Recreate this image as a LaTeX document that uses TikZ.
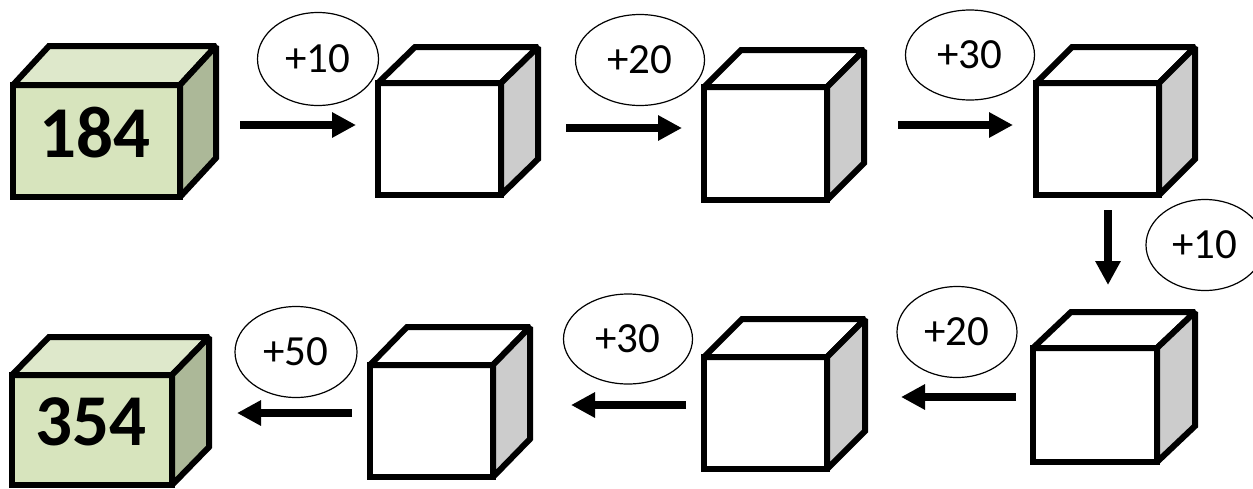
\documentclass[tikz,border=0pt]{standalone}
\usepackage{fontspec}
\setmainfont{Carlito}
\usetikzlibrary{shapes.geometric,arrows.meta}
\definecolor{gfront}{HTML}{D7E4BD}
\definecolor{gtop}{HTML}{DEE8CB}
\definecolor{gside}{HTML}{ACB898}
\definecolor{wside}{HTML}{CCCCCC}
\tikzset{
  edge/.style={draw=black, line width=6pt, line join=miter, miter limit=2},
  frontbox/.style={edge, rectangle, inner sep=0pt, outer sep=0pt},
  addbubble/.style={draw=black, line width=1.2pt, ellipse, inner sep=0pt, font=\fontsize{43}{45}\selectfont},
  bignum/.style={inner sep=0pt, font=\fontsize{73}{75}\selectfont\bfseries},
  arr/.style={line width=8pt, -{Triangle[length=24pt,width=24pt]}},
}
% \boxcube{name}{x1}{y1}{w}{h}{dx}{dy}{front}{top}
\newcommand{\boxcube}[9]{%
  \node[frontbox, minimum width=#4pt, minimum height=#5pt, fill=#8, anchor=north west] (#1) at (#2,#3) {};
  \draw[edge, fill=#9] (#1.north west) -- ++(#6,-#7) -- ++(#4,0) -- (#1.north east) -- cycle;
}
\newcommand{\sidecube}[5]{%
  \draw[edge, fill=#5] (#1.north east) -- ++(#2,-#3) -- ++(0,#4) -- (#1.south east) -- cycle;
}
\begin{document}
\begin{tikzpicture}[x=1pt,y=-1pt]
\useasboundingbox (0,0) rectangle (1253,488);
% cubes
\boxcube{c1}{13}{85}{167}{112}{36}{39}{gfront}{gtop}
\sidecube{c1}{36}{39}{112}{gside}
\boxcube{c2}{378}{83}{123}{112}{37}{36}{white}{white}
\sidecube{c2}{37}{36}{112}{wside}
\boxcube{c3}{704}{87}{123}{113}{37}{37}{white}{white}
\sidecube{c3}{37}{37}{113}{wside}
\boxcube{c4}{1036}{83}{123}{112}{36}{36}{white}{white}
\sidecube{c4}{36}{36}{112}{wside}
\boxcube{c5}{1033}{348}{124}{114}{38}{36}{white}{white}
\sidecube{c5}{38}{36}{114}{wside}
\boxcube{c6}{704}{357}{123}{112}{38}{38}{white}{white}
\sidecube{c6}{38}{38}{112}{wside}
\boxcube{c7}{370}{365}{123}{112}{37}{38}{white}{white}
\sidecube{c7}{37}{38}{112}{wside}
\boxcube{c8}{12}{375}{160}{110}{37}{38}{gfront}{gtop}
\sidecube{c8}{37}{38}{110}{gside}
% numbers
\node[bignum] (n1) at (95,133) {184};
\node[bignum] (n8) at (91,422) {354};
% bubbles
\node[addbubble, minimum width=121pt, minimum height=93pt] (e1) at (318,59) {+10};
\node[addbubble, minimum width=129pt, minimum height=91pt] (e2) at (640,60) {+20};
\node[addbubble, minimum width=129pt, minimum height=90pt] (e3) at (970,55) {+30};
\node[addbubble, minimum width=118pt, minimum height=91pt] (e4) at (1205,245) {+10};
\node[addbubble, minimum width=120pt, minimum height=91pt] (e5) at (957,332) {+20};
\node[addbubble, minimum width=129pt, minimum height=90pt] (e6) at (628,339) {+30};
\node[addbubble, minimum width=122pt, minimum height=91pt] (e7) at (296,352) {+50};
% arrow end points
\coordinate (a1s) at (240,125); \coordinate (a1e) at (356,125);
\coordinate (a2s) at (566,128); \coordinate (a2e) at (682,128);
\coordinate (a3s) at (898,125); \coordinate (a3e) at (1013,125);
\coordinate (a4s) at (1108,210); \coordinate (a4e) at (1108,285);
\coordinate (a5s) at (1016,397); \coordinate (a5e) at (901,397);
\coordinate (a6s) at (686,405); \coordinate (a6e) at (571,405);
\coordinate (a7s) at (352,413); \coordinate (a7e) at (237,413);
\draw[arr] (a1s) -- (a1e);
\draw[arr] (a2s) -- (a2e);
\draw[arr] (a3s) -- (a3e);
\draw[arr] (a4s) -- (a4e);
\draw[arr] (a5s) -- (a5e);
\draw[arr] (a6s) -- (a6e);
\draw[arr] (a7s) -- (a7e);
\end{tikzpicture}
\end{document}
